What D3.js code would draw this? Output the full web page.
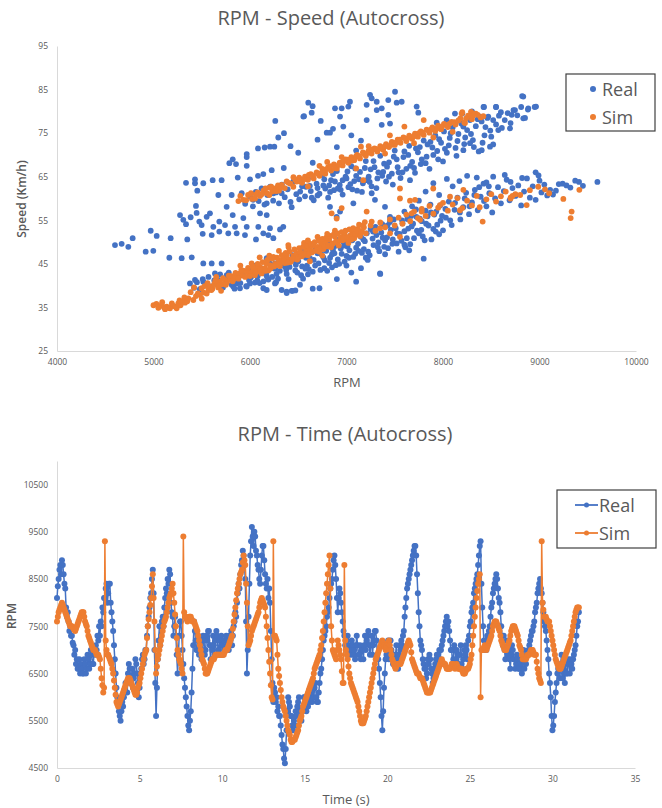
<!DOCTYPE html>
<html>
<head>
<meta charset="utf-8">
<script src="https://cdnjs.cloudflare.com/ajax/libs/d3/7.8.5/d3.min.js"></script>
<style>
body { margin: 0; background: #fff; }
svg text { font-family: 'Open Sans', sans-serif; fill: #595959; }
</style>
</head>
<body>
<script>
// Series colours (Excel default palette)
const realColor = '#4472C4',
    simColor = '#ED7D31';

// Top chart: RPM vs speed, [rpm, km/h]
const realScatter = [
    // scattered cloud
    [4601,49.3],[4670,49.6],[4739,48.9],[4784,50.9],[4919,47.8],[4998,48.0],[4971,52.6],[5033,51.4],[5178,50.9],[5164,46.4],
    [5292,46.3],[5396,46.5],[5350,50.6],[5275,56.2],[5309,55.1],[5337,54.1],[5385,55.7],[5337,63.6],[5430,64.4],[5430,63.5],
    [5454,61.8],[5516,63.5],[5440,58.3],[5447,56.7],[5475,54.7],[5499,53.9],[5510,51.9],[5551,55.8],[5585,56.6],[5620,53.5],
    [5672,60.8],[5613,64.2],[5706,64.2],[5682,54.7],[5741,53.9],[5682,52.4],[5603,51.6],[5775,52.0],[5758,58.1],[5821,56.2],
    [5786,68.1],[5821,69.0],[5855,67.9],[5966,70.2],[5966,69.5],[5966,67.5],[5873,64.8],[6000,64.4],[6083,65.2],[6138,65.6],
    [6225,66.5],[6083,71.5],[6152,71.7],[6207,71.9],[6252,71.9],[6293,74.0],[6352,75.0],[6262,77.8],[5810,60.8],[5845,53.5],
    [5862,52.0],[5931,55.5],[5966,53.5],[5948,51.6],[5914,61.2],[6034,59.7],[6104,56.6],[6173,56.2],[6086,53.5],[6138,52.0],
    [6190,51.6],[6242,50.9],[6062,50.6],[6207,53.2],[6311,52.9],[6345,53.5],[6432,58.0],[6173,58.9],[6242,61.2],[6328,61.2],
    [5378,40.5],[5430,41.3],[5516,40.9],[5637,42.8],[5672,41.3],[5758,42.4],[5827,39.8],[5896,39.4],[5966,39.8],[5862,40.5],
    [6000,40.5],[6138,39.4],[6173,39.0],[6259,40.5],[6328,39.0],[6380,38.6],[6432,38.8],[5516,45.1],[5603,45.1],[5706,45.1],
    [6173,46.3],[6259,45.1],[6518,40.2],
    [7244,83.8],[7261,83.0],[7313,82.2],[7503,84.5],[7433,82.6],[7520,82.0],[7572,82.2],[7209,81.5],[7036,82.2],[7019,81.1],
    [6950,80.7],[6881,80.7],[6933,78.8],[6967,76.5],[6795,75.1],[6829,75.1],[6733,77.8],[6604,82.0],[6649,81.2],[6639,79.7],
    [6553,78.8],[7209,78.0],[7365,80.7],[7313,80.3],[7433,79.2],[7451,77.2],[7365,76.9],[7727,81.1],[7744,79.7],[7935,77.4],
    [8038,78.0],[8124,79.5],[6560,78.9],[6420,72.0],[6500,70.5],[6700,73.5],[6860,76.0],[7050,74.5],[7100,71.0],[7150,73.3],
    [6650,68.2],[6350,67.0],[6900,71.8],
    [8832,83.4],[8884,80.7],[8964,81.1],[8746,80.3],[8712,79.2],[8832,78.4],[8694,76.1],[8425,81.0],[8549,81.0],[8469,78.8],
    [8383,78.8],[8573,75.7],[8487,71.9],[8401,71.1],[8280,72.7],[8211,71.1],
    [6829,58.1],[6933,57.0],[6898,55.8],[7071,58.9],[7295,59.7],[7399,58.1],[7261,61.2],[7658,64.2],[7451,55.8],[7347,42.8],
    // lower band
    [5420,39.5],[5450,40.8],[5480,39.2],[5510,41.5],[5540,40.1],[5570,42.0],[5600,39.8],[5630,41.2],[5660,40.4],[5690,42.6],
    [5720,39.6],[5750,41.8],[5780,43.0],[5810,40.2],[5840,39.3],[5870,41.6],[5900,40.6],[5930,42.9],[5960,39.9],[5990,41.3],
    [6020,43.6],[6050,40.7],[6080,42.2],[6110,44.0],[6140,41.0],[6170,43.1],[6200,45.2],[6230,42.0],[6260,43.9],[6290,41.6],
    [6320,44.8],[6350,46.2],[6380,42.7],[6410,44.3],[6440,47.0],[6470,43.5],[6500,45.6],[6530,42.4],[6560,47.8],[6590,44.6],
    [6620,46.3],[6650,43.2],[6680,48.5],[6710,45.1],[6740,47.2],[6770,44.0],[6800,49.6],[6830,46.4],[6860,48.2],[6890,44.7],
    [6920,50.6],[6950,47.3],[6980,45.5],[7010,49.0],[7040,51.5],[7070,46.6],[7100,48.7],[7130,52.4],[7160,47.5],[7190,50.2],
    [7220,45.9],[7250,53.0],[7280,49.3],[7310,51.6],[7340,47.9],[7370,54.1],[7400,50.4],[7430,48.6],[7460,52.8],[7490,55.2],
    [7520,49.7],[7550,51.9],[7580,54.3],[7610,48.8],[7640,53.1],[7670,56.0],[7700,50.9],[7730,52.6],[7760,55.4],[7790,51.3],
    [7820,57.2],[7850,53.8],[7880,50.6],[7910,56.3],[7940,54.0],[7970,58.4],[8000,52.7],[8030,55.6],[8060,59.3],[8090,53.9],
    [8120,57.4],[8150,60.2],[8180,55.2],[8210,58.0],[8240,61.3],[8270,56.4],[8300,59.1],[8330,62.0],[8360,57.3],[8390,60.4],
    [8420,63.4],[8450,58.2],[8480,61.2],[8510,56.8],[8540,60.0],[8570,62.6],[8600,58.9],[8630,61.7],[8660,64.3],[8690,59.6],
    [8720,62.4],[8750,60.6],[8780,63.0],[8810,58.4],[8840,61.6],[8870,64.6],[8900,60.2],[8930,62.8],[8960,59.7],[8990,65.3],
    [9020,61.4],[9050,63.2],[9080,60.7],[9110,62.0],[9140,60.9],[9170,61.8],[9200,63.3],[9240,63.4],[9280,63.0],[9320,62.5],
    [9370,64.1],[9410,63.8],[9450,62.9],[9600,63.8],
    [6010,41.9],[6060,44.6],[6100,40.6],[6150,42.8],[6190,41.4],[6240,44.6],[6270,40.8],[6310,43.4],[6360,44.4],[6400,41.5],
    [6450,45.8],[6490,43.0],[6540,44.4],[6580,46.4],[6610,43.8],[6660,45.9],[6700,47.4],[6730,43.6],[6760,46.5],[6790,48.0],
    [6820,45.2],[6850,47.2],[6880,49.1],[6910,46.0],[6940,48.5],[6970,50.0],[7000,46.8],[7030,48.1],[7060,50.4],[7090,47.3],
    [7120,49.6],[7150,51.2],[7180,48.4],[7210,52.0],[7240,47.0],[7270,50.8],[7300,53.5],[7330,49.9],[7360,52.2],[7390,48.9],
    [7420,51.1],[7450,54.6],[7480,50.6],[7510,53.2],[7540,47.8],[7570,50.3],[7600,52.5],[7630,55.3],[7660,49.5],[7690,54.2],
    [7720,57.5],[7750,52.0],[7780,54.8],[7810,50.4],[7840,55.9],[7870,58.6],[7900,53.0],[7930,57.0],[7960,51.8],[7990,56.0],
    [6025,42.6],[6075,41.2],[6125,43.4],[6175,42.1],[6225,44.0],[6275,42.7],[6325,45.2],[6375,43.6],[6425,46.0],[6475,44.8],
    [6525,47.0],[6575,43.9],[6625,47.6],[6675,44.6],[6725,48.8],[6775,45.8],[6825,49.8],[6875,47.4],[6925,45.0],[6975,49.2],
    [7025,46.4],[7075,51.6],[7125,48.0],[7175,50.6],[7225,47.8],[7275,52.4],[7325,48.8],[7375,51.0],[7425,53.8],[7475,49.6],
    [7525,52.0],[7575,55.0],[7625,50.9],[7675,53.6],[7725,55.8],[7775,52.8],[7825,54.2],[7875,56.8],[7925,52.4],[7975,54.9],
    [8025,57.6],[8075,55.0],[8125,59.0],[8175,56.8],[8225,60.0],[8275,58.2],[8325,60.8],[8375,62.6],[8425,59.4],[8475,62.8],
    [6550,41.6],[6600,42.6],[6800,43.4],[6850,44.2],[7000,44.6],[7200,46.4],[7400,47.2],[7600,49.4],
    [6380,38.3],[6440,38.8],[6650,39.3],[6720,39.4],[6470,38.9],[7100,40.9],[7350,42.7],[6900,41.5],[7050,43.0],[7150,44.0],
    [7650,48.1],[7800,46.2],
    [7750,59.5],[7820,61.6],[7900,63.5],[7960,60.8],[8040,64.5],[8100,62.8],[8170,64.0],[8250,65.2],[8350,64.8],[8450,63.7],
    [8520,65.0],[8640,65.4],[8700,63.8],[8820,64.7],[8960,66.0],[9000,64.1],[7680,58.2],[7600,57.0],
    // upper band
    [5950,58.8],[6000,60.5],[6030,58.2],[6060,61.5],[6090,59.4],[6120,62.3],[6150,58.6],[6180,60.8],[6210,62.7],[6240,59.5],
    [6270,61.4],[6300,58.9],[6330,63.2],[6360,60.3],[6390,62.1],[6420,59.2],[6450,63.9],[6480,61.0],[6510,59.8],[6540,62.8],
    [6570,60.5],[6600,64.6],[6630,61.7],[6660,59.6],[6690,63.4],[6720,61.1],[6750,65.4],[6780,62.3],[6810,60.2],[6840,64.2],
    [6870,61.9],[6900,66.3],[6930,63.1],[6960,60.9],[6990,65.0],[7020,62.6],[7050,67.4],[7080,64.0],[7110,61.8],[7140,66.1],
    [7170,63.5],[7200,68.6],[7230,65.0],[7260,62.8],[7290,67.2],[7320,64.6],[7350,69.8],[7380,66.1],[7410,63.9],[7440,68.3],
    [7470,65.7],[7500,71.0],[7530,67.2],[7560,64.7],[7590,69.5],[7620,66.8],[7650,72.1],[7680,68.4],[7710,65.9],[7740,70.6],
    [7770,67.9],[7800,73.3],[7830,69.6],[7860,66.8],[7890,71.7],[7920,74.5],[7950,69.0],[7980,72.8],[8010,75.4],[8040,70.5],
    [8070,73.9],[8100,76.3],[8130,71.6],[8160,74.8],[8190,77.2],[8220,72.5],[8250,75.7],[8280,78.0],[8310,73.4],[8340,76.6],
    [8370,70.8],[8400,77.7],[8430,74.5],[8460,78.5],[8490,75.6],[8520,72.4],[8550,77.0],[8580,79.0],[8610,76.2],[8640,78.0],
    [8670,79.6],[8700,77.3],[8730,80.3],[8770,79.1],[8810,81.0],[8850,78.5],[8880,80.4],[8950,81.0],[8820,83.5],[8300,80.0],
    [8420,81.0],[8550,81.0],[8200,79.5],
    [6620,62.9],[6700,60.7],[6760,63.0],[6830,61.5],[6880,63.9],[6940,62.0],[7000,64.6],[7060,62.1],[7100,65.2],[7160,61.5],
    [7210,64.2],[7250,66.7],[7310,62.4],[7370,65.2],[7420,67.3],[7480,63.2],[7520,69.0],[7580,66.0],[7640,70.0],[7700,67.0],
    [7760,71.8],[7820,68.1],[7870,73.0],[7940,70.9],[8000,68.5],[8060,72.2],[8140,69.8],[8230,74.0],[8320,71.8],[8410,72.8],
    [8500,74.2],
    [6520,61.6],[6580,62.7],[6640,60.2],[6700,62.4],[6770,64.4],[6820,63.0],[6860,65.6],[6910,62.3],[6960,64.2],[7010,66.2],
    [7040,63.3],[7090,66.9],[7130,64.4],[7190,67.0],[7240,63.8],[7280,68.6],[7330,66.0],[7390,68.0],[7440,65.0],[7490,69.6],
    [7540,66.0],[7600,70.8],[7660,67.5],[7720,71.5],[7780,69.0],[7840,72.4],[7900,70.0],[7960,73.6],[8020,71.4],[8080,75.0],
    [8150,73.2],[8210,76.5],[8290,74.8],[8360,78.2],[8440,76.4],[8520,78.0],[8600,79.8]
];

const simScatter = [
    // lower band
    [5030,35.8],[5060,35.2],[5085,35.6],[5110,35.0],[5137,35.2],[5160,34.9],[5171,34.8],[5200,35.4],[5223,35.2],[5240,34.8],
    [5257,35.9],[5280,35.5],[5300,36.3],[5326,36.1],[5361,37.1],[5385,38.5],[5413,36.7],[5440,37.6],[5482,37.9],[5499,39.4],
    [5520,38.4],[5551,38.2],[5570,39.0],[5585,39.8],[5610,39.3],[5630,40.4],[5655,40.2],[5670,39.6],[5689,40.9],[5710,40.3],
    [5741,41.3],[5760,40.8],[5793,41.4],[5810,42.2],[5830,41.5],[5845,42.1],[5870,41.9],[5896,42.8],[5920,42.3],[5940,43.4],
    [5966,43.2],[5990,42.6],[6010,43.0],[6017,45.1],[6034,43.6],[6050,42.4],[6070,44.0],[6090,43.3],[6104,44.3],[6120,42.8],
    [6140,43.8],[6155,44.0],[6170,45.1],[6190,43.5],[6207,44.7],[6220,44.2],[6242,46.6],[6260,45.0],[6276,44.7],[6300,45.8],
    [6310,44.5],[6328,45.5],[6345,46.3],[6360,45.2],[6380,47.0],[6400,46.0],[6420,45.4],[6432,45.9],[6450,46.8],[6470,46.2],
    [6484,47.4],[6500,46.5],[6520,47.8],[6540,46.8],[6560,47.3],[6580,48.2],[6600,47.0],[6620,48.6],[6640,47.6],[6660,49.2],
    [6680,48.0],[6700,48.9],[6720,47.8],[6740,49.6],[6760,48.4],[6780,50.2],[6800,49.0],[6820,50.6],[6840,48.8],[6860,49.7],
    [6880,51.2],[6900,50.0],[6920,49.2],[6940,51.0],[6960,50.4],[6980,51.8],[7000,50.6],[7020,49.8],[7040,51.5],[7060,52.2],
    [7080,50.9],[7100,51.7],[7120,53.0],[7140,51.4],[7160,52.5],[7180,53.4],[7200,52.0],[6397,49.3],[6560,49.8],[6700,51.2],
    [6880,52.6],[6620,45.6],[6750,46.9],[5900,44.6],[5700,38.8],[5500,37.0],[5650,42.0],[6100,46.5],[6300,48.0],
    [5420,39.6],[5460,38.2],[5530,39.9],[5560,40.6],[5600,39.0],[5640,41.1],[5680,40.0],[5720,41.7],[5750,40.2],[5780,42.3],
    [5820,41.0],[5850,42.9],[5880,41.6],[5910,43.6],[5950,42.0],[5980,44.1],[6000,42.2],[6030,44.4],[6060,43.0],[6080,45.0],
    [6110,43.6],[6130,45.4],[6160,43.4],[6180,45.9],[6210,43.9],[6230,46.2],[6250,44.4],[6280,46.4],[6300,44.8],[6330,47.0],
    [6350,45.6],[6370,47.5],[6390,45.3],[6410,47.8],[6440,46.2],[6460,48.3],[6490,46.0],[6510,48.6],[6530,46.7],[6550,48.9],
    [6570,47.1],[6590,49.2],[6610,47.4],[6630,49.6],[6650,47.9],[6670,50.0],[6690,48.1],[6710,50.3],[6730,48.5],[6750,50.7],
    [6770,48.9],[6790,51.0],[6810,49.3],[6830,51.4],[6850,49.5],[6870,51.8],[6890,50.1],[6910,52.0],[6930,50.4],[6950,52.3],
    [6970,50.8],[6990,52.6],[7010,51.1],[7030,52.9],[7050,50.6],[7070,53.2],[7090,51.9],[7110,52.6],[7130,54.0],[7150,52.2],
    [7170,53.8],[7190,54.6],[5350,36.4],[5320,37.3],[5270,36.6],[5190,35.9],[5120,34.6],[5090,36.2],[5050,34.9],[5000,35.5],
    [6200,46.9],[6400,48.8],[6600,50.4],[6800,51.9],
    [7250,53.8],[7300,52.6],[7350,54.5],[7400,53.4],[7450,55.2],[7500,53.8],[7540,55.6],[7580,54.2],[7620,56.3],[7660,54.8],
    [7700,57.0],[7740,55.5],[7780,57.6],[7820,56.0],[7860,58.3],[7900,56.5],[7950,57.9],[8000,59.0],[8050,57.2],[8100,58.6],
    [8150,60.1],[8200,57.8],[8250,59.5],[8300,58.4],[8350,60.6],[8411,54.7],[8450,59.8],[8500,61.0],[8550,59.3],[8600,60.5],
    [8650,61.6],[8700,60.2],[8750,61.0],[8800,60.8],[8867,58.5],[8900,61.9],[8987,62.7],[9057,62.1],[9100,61.2],[9247,59.9],
    [9333,57.0],[9323,55.5],[9413,62.0],[8380,58.0],[8700,60.0],[8720,60.6],
    // between the bands
    [7554,62.3],[7554,60.0],[7658,59.5],[7899,62.3],[7710,59.7],[7209,57.0],[7174,64.2],[6950,57.8],[6846,56.6],[6898,55.4],
    [7261,54.7],[7347,53.2],[7451,52.0],[7554,51.2],[7675,56.6],[7779,57.0],[7762,55.1],[8211,62.0],[8073,60.4],[7969,58.5],
    [8176,57.3],
    // upper band
    [5880,59.4],[5931,59.7],[5980,60.8],[6020,59.9],[6052,60.0],[6080,61.4],[6104,60.6],[6140,61.8],[6173,61.2],[6200,62.5],
    [6230,61.6],[6259,62.3],[6290,63.0],[6328,63.1],[6360,62.4],[6400,63.6],[6449,62.7],[6484,63.9],[6510,64.8],[6540,63.6],
    [6570,65.0],[6600,64.3],[6630,65.6],[6660,64.6],[6690,66.0],[6720,65.2],[6750,66.8],[6780,65.7],[6810,67.2],[6840,66.4],
    [6870,67.8],[6900,66.9],[6930,68.2],[6960,67.6],[6990,69.0],[7020,68.2],[7050,69.5],[7080,68.8],[7110,70.0],[7140,69.2],
    [7170,70.6],[7200,69.8],[7230,71.0],[7260,70.3],[7290,71.5],[7320,70.8],[7350,72.0],[7380,71.2],[7410,72.5],[7440,71.8],
    [7470,73.0],[7500,72.3],[7530,73.5],[7560,72.8],[7590,74.0],[7620,73.2],[7650,74.4],[7680,73.7],[7710,74.9],[7740,74.2],
    [7770,75.4],[7800,74.6],[7830,75.8],[7860,75.1],[7890,76.3],[7920,75.5],[7950,76.7],[7980,75.9],[8010,77.1],[8050,76.4],
    [8090,77.6],[8130,77.0],[8180,78.4],[8220,77.5],[8260,79.0],[8300,78.2],[8340,79.5],[8390,78.6],[8200,79.8],[8290,79.9],
    [7800,78.0],[7600,76.5],[7450,74.5],[7230,72.0],[7150,71.9],[6950,69.5],[6720,67.5],[6450,64.9],[6800,68.4],[6300,61.8],
    [7100,66.9],[7400,70.3],[7700,72.7],[7900,74.0],[6600,62.8],[6200,60.8],[8100,75.3],[8307,79.5],[8418,78.9],[8193,79.5],
    [8228,77.3],
    [5900,60.6],[5960,59.6],[6010,61.2],[6060,60.9],[6120,61.0],[6160,62.3],[6220,62.7],[6270,61.7],[6320,62.6],[6380,63.9],
    [6420,63.4],[6470,64.3],[6520,63.9],[6560,64.4],[6610,65.4],[6650,65.2],[6700,65.7],[6740,65.9],[6790,66.7],[6830,67.4],
    [6880,67.0],[6920,67.7],[6970,68.5],[7010,68.9],[7060,68.7],[7100,69.7],[7130,69.7],[7180,70.2],[7220,70.5],[7270,71.2],
    [7310,71.3],[7360,71.5],[7400,72.0],[7460,72.3],[7510,72.8],[7550,73.5],[7610,73.8],[7660,74.0],[7700,74.3],[7750,75.0],
    [7790,75.1],[7850,75.6],[7880,75.9],[7940,76.1],[7990,76.5],[8030,76.9],[8070,77.2],[8120,77.5],[8160,77.9],[8240,78.4],
    [8310,79.0],[8360,79.2]
];

const rpmTicks = [4000, 5000, 6000, 7000, 8000, 9000, 10000],
    speedTicks = [25, 35, 45, 55, 65, 75, 85, 95];

// Bottom chart: RPM over time, one sample every 0.05 s from t = 0 (one row per second)
const timeStep = 0.05;
const realRpm = [
    8100, 8350, 8500, 8700, 8800, 8600, 8900, 8800, 8600, 8400, 8300, 7900, 7700, 7800, 7600, 7400, 7500, 7300, 7300, 7150,
    7100, 6900, 7000, 6700, 6800, 6600, 6600, 6800, 6500, 6700, 6600, 6500, 6500, 6800, 6700, 6500, 6600, 6900, 6800, 6600,
    6700, 7000, 6900, 6700, 6700, 7000, 6900, 7100, 7000, 7300, 7200, 7500, 7300, 7600, 7500, 7900, 7800, 8100, 8100, 8300,
    8400, 8000, 8200, 8400, 8400, 8000, 7800, 7600, 7400, 7100, 6800, 6500, 6200, 6000, 5900, 5700, 5600, 5500, 5700, 5900,
    5800, 6000, 6100, 6300, 6300, 6100, 6500, 6700, 6600, 6300, 6400, 6600, 6200, 6400, 6500, 6800, 6700, 6500, 6300, 6000,
    6200, 6500, 6600, 6800, 6900, 6700, 6800, 7000, 7000, 7300, 7500, 7700, 7900, 8100, 8200, 8500, 8700, 8200, 7000, 6300,
    5600, 6200, 6800, 7200, 7500, 7100, 7300, 7600, 7700, 7500, 7900, 8100, 8300, 8200, 8500, 8400, 8700, 8600, 8000, 7800,
    7700, 7300, 7500, 7700, 7300, 6900, 6500, 6900, 7300, 7600, 7600, 7300, 7000, 6700, 6400, 6200, 6000, 5800, 5600, 5400,
    5300, 5500, 5700, 6100, 6600, 7100, 7600, 7400, 7200, 7000, 7000, 7300, 6900, 7200, 7100, 6800, 7000, 7300, 7200, 6900,
    7000, 7300, 7200, 7400, 7400, 7100, 6800, 7100, 7000, 7300, 7100, 6900, 7200, 7400, 7300, 7000, 7000, 7200, 6900, 7300,
    7100, 6900, 7200, 7000, 7000, 7300, 7100, 7200, 7000, 7300, 7200, 7400, 7100, 7300, 7500, 7600, 7800, 7700, 8000, 8200,
    8400, 8300, 8600, 8800, 8900, 9100, 9000, 8800, 8500, 7600, 6500, 7000, 7700, 8400, 9000, 9300, 9600, 9400, 9200, 9500,
    9400, 9100, 9000, 8800, 8700, 8500, 8400, 8700, 9000, 9200, 9200, 8900, 8600, 8400, 8300, 8500, 8100, 8300, 8000, 7400,
    6800, 6300, 5900, 6200, 6100, 5900, 6000, 5700, 5800, 5600, 5600, 5400, 5200, 5000, 4900, 4700, 4600, 4900, 5300, 5700,
    6000, 5900, 5800, 5600, 5600, 5400, 5300, 5500, 5400, 5700, 5600, 5800, 5900, 6000, 5700, 5600, 5500, 5700, 5800, 6000,
    6000, 5800, 5700, 5900, 5800, 6000, 5900, 6100, 6100, 5900, 6200, 6000, 6200, 6300, 6000, 5900, 5900, 6100, 6300, 6500,
    6600, 6800, 7000, 7200, 7300, 7400, 7500, 7700, 7800, 7900, 8100, 8300, 8400, 8500, 8700, 8900, 9000, 8800, 8500, 8100,
    7800, 8100, 8300, 8200, 8000, 7800, 7600, 7400, 7300, 7100, 7000, 7200, 7300, 7000, 7100, 6900, 7000, 7200, 6900, 7100,
    7000, 6800, 7100, 7300, 7100, 6900, 6900, 7100, 6800, 7000, 7000, 6800, 7100, 7300, 7000, 7200, 7300, 7400, 7100, 6900,
    7100, 7300, 6900, 7100, 7200, 7400, 7400, 7200, 6900, 6800, 6600, 6300, 6000, 5600, 5300, 5700, 6200, 6500, 6800, 6900,
    7000, 7200, 6800, 7000, 7200, 7000, 6900, 6700, 6700, 6900, 6900, 7100, 6800, 6600, 6900, 7100, 7000, 7200, 7100, 7300,
    7400, 7700, 7900, 8100, 8300, 8400, 8500, 8600, 8700, 8800, 8900, 9000, 9100, 9200, 9200, 9000, 8600, 8200, 7800, 7500,
    7200, 7100, 7000, 6800, 6700, 6600, 6600, 6400, 6500, 6800, 6700, 6900, 6800, 6600, 6500, 6300, 6400, 6600, 6700, 6800,
    6900, 6600, 6700, 7000, 6800, 7000, 7100, 7200, 7300, 7400, 7500, 7600, 7700, 7500, 7600, 7400, 7200, 7000, 7000, 6700,
    6800, 7100, 7000, 6800, 7000, 6700, 6700, 6900, 6900, 7100, 6700, 6600, 6800, 7000, 6900, 7100, 7000, 6800, 7200, 7300,
    7500, 7600, 7800, 7900, 8000, 8200, 8300, 8400, 8500, 8600, 8800, 9000, 9200, 9300, 8400, 7900, 7500, 7200, 7000, 7100,
    7000, 7300, 7200, 7400, 7500, 7700, 7900, 8000, 8200, 8300, 8400, 8500, 8600, 8500, 8300, 8100, 8000, 7800, 7500, 7300,
    7100, 7300, 7000, 6800, 7000, 7200, 6900, 7000, 6800, 6600, 6900, 7100, 7000, 6800, 6800, 6600, 6700, 6900, 6800, 6600,
    6600, 6800, 6700, 6500, 6800, 7000, 6600, 6800, 6700, 6900, 6900, 7000, 7100, 7200, 7300, 7400, 7400, 7500, 7600, 7800,
    7900, 8000, 8200, 8300, 8400, 8500, 8300, 8200, 8000, 7800, 7600, 7500, 7400, 7200, 7000, 6800, 6500, 6300, 6000, 5600,
    5300, 5400, 5600, 5900, 6100, 6300, 6500, 6600, 6600, 6400, 6700, 6900, 6400, 6600, 6500, 6300, 6700, 6500, 6500, 6800,
    6700, 6500, 6800, 6700, 6600, 6800, 6900, 7000, 7100, 7300, 7500, 7600, 7800
];
const simRpm = [
    7600, 7700, 7800, 7850, 7900, 7950, 8000, 7950, 7900, 7850, 7800, 7750, 7700, 7650, 7600, 7550, 7500, 7500, 7500, 7480,
    7450, 7420, 7400, 7450, 7500, 7550, 7600, 7650, 7700, 7750, 7800, 7800, 7800, 7700, 7600, 7550, 7500, 7400, 7300, 7250,
    7200, 7150, 7100, 7050, 7000, 7000, 7000, 6950, 6900, 6900, 6900, 6850, 6800, 6600, 6400, 6250, 6100, 6200, 9300, 7200,
    7000, 6900, 6900, 6850, 6800, 6750, 6700, 6600, 6500, 6350, 6200, 6050, 5900, 5850, 5800, 5850, 5900, 5950, 6000, 6050,
    6100, 6150, 6200, 6250, 6300, 6350, 6400, 6400, 6400, 6350, 6300, 6250, 6200, 6150, 6100, 6050, 6050, 6100, 6200, 6250,
    6300, 6400, 6500, 6600, 6700, 6800, 6900, 6950, 7000, 7250, 7500, 7650, 7800, 7950, 8100, 8350, 8600, 8100, 7600, 7000,
    6500, 6650, 6800, 6900, 7000, 7100, 7200, 7300, 7400, 7500, 7600, 7650, 7700, 7800, 7900, 8000, 8100, 8150, 8200, 8300,
    8400, 8200, 8000, 7750, 7500, 7250, 7000, 6900, 6800, 6750, 6700, 6600, 6500, 9400, 7800, 7700, 7700, 7650, 7600, 7650,
    7700, 7700, 7700, 7650, 7600, 7600, 7600, 7550, 7500, 7450, 7400, 7300, 7200, 7100, 7000, 6900, 6800, 6750, 6700, 6600,
    6500, 6500, 6500, 6550, 6600, 6650, 6700, 6750, 6800, 6800, 6800, 6850, 6900, 6900, 6900, 6900, 6900, 6900, 6900, 6900,
    6900, 6900, 6900, 6950, 7000, 7000, 7000, 7050, 7100, 7150, 7200, 7250, 7300, 7450, 7600, 7750, 7900, 8050, 8200, 8300,
    8400, 8500, 8600, 8650, 8700, 8850, 9000, 8900, 8800, 8400, 8000, 7500, 7100, 7150, 7200, 7300, 7400, 7450, 7500, 7550,
    7600, 7650, 7700, 7750, 7800, 7900, 8000, 8050, 8100, 8050, 8000, 7950, 7900, 7700, 7500, 7250, 7000, 6750, 6500, 6250,
    6000, 5950, 9300, 7300, 7300, 7250, 7200, 6900, 6600, 6450, 6300, 6150, 6000, 5900, 5800, 5750, 5700, 5600, 5500, 5400,
    5300, 5250, 5200, 5100, 5050, 5050, 5100, 5100, 5100, 5150, 5200, 5250, 5300, 5400, 5500, 5550, 5600, 5700, 5800, 5850,
    5900, 5950, 6000, 6050, 6100, 6150, 6200, 6250, 6300, 6350, 6400, 6500, 6600, 6650, 6700, 6750, 6800, 6850, 6900, 7000,
    7100, 7250, 7400, 7600, 7800, 8000, 8200, 8400, 8600, 8800, 9000, 8300, 7500, 7200, 7000, 6950, 6900, 6850, 6800, 7000,
    7200, 7100, 7000, 6900, 6800, 6550, 6300, 6300, 8800, 7200, 7000, 6900, 6800, 6650, 6500, 6400, 6300, 6250, 6200, 6150,
    6100, 6050, 6000, 5950, 5900, 5800, 5700, 5600, 5500, 5450, 5450, 5450, 5500, 5550, 5600, 5700, 5800, 5900, 6000, 6100,
    6200, 6300, 6400, 6500, 6600, 6700, 6800, 6850, 6900, 6950, 7000, 7050, 7100, 7150, 7200, 7150, 7100, 7050, 7000, 7050,
    7100, 7150, 7200, 7100, 7000, 6900, 6800, 6750, 6700, 6650, 6600, 6650, 6700, 6700, 6700, 6700, 6700, 6750, 6800, 6850,
    6900, 6950, 7000, 7050, 7100, 7150, 7200, 7150, 7100, 6950, 6800, 6750, 6700, 6650, 6600, 6550, 6500, 6500, 6500, 6450,
    6400, 6400, 6400, 6350, 6300, 6250, 6200, 6150, 6100, 6100, 6100, 6100, 6100, 6150, 6200, 6250, 6300, 6350, 6400, 6450,
    6500, 6550, 6600, 6650, 6700, 6750, 6800, 6750, 6700, 6700, 6700, 6650, 6600, 6600, 6600, 6600, 6600, 6650, 6700, 6700,
    6700, 6650, 6600, 6650, 6700, 6650, 6600, 6600, 6600, 6600, 6600, 6550, 6500, 6500, 6500, 6550, 6600, 6600, 6600, 6650,
    6700, 6800, 6900, 7100, 7300, 7500, 7700, 7900, 8100, 8250, 8400, 8500, 8600, 6000, 7000, 7000, 7000, 7050, 7100, 7050,
    7000, 7050, 7100, 7150, 7200, 7250, 7300, 7400, 7500, 7550, 7600, 7600, 7600, 7550, 7500, 7450, 7400, 7300, 7200, 7150,
    7100, 7050, 7000, 7000, 7000, 7050, 7100, 7150, 7200, 7300, 7400, 7450, 7500, 7500, 7500, 7450, 7400, 7350, 7300, 7200,
    7100, 7050, 7000, 6900, 6800, 6800, 6800, 6800, 6800, 6850, 6900, 6900, 6900, 6950, 7000, 7000, 7000, 6950, 6900, 6900,
    6900, 6750, 6600, 6500, 6400, 6350, 6300, 9300, 8000, 7850, 7700, 7700, 7700, 7650, 7600, 7600, 7600, 7500, 7400, 7300,
    7200, 7100, 7000, 6900, 6800, 6750, 6700, 6650, 6600, 6600, 6600, 6650, 6700, 6750, 6800, 6850, 6900, 6950, 7000, 7050,
    7100, 7150, 7200, 7300, 7400, 7500, 7600, 7700, 7800, 7850, 7900, 7900, 7900
];

const timeTicks = [0, 5, 10, 15, 20, 25, 30, 35],
    rpmTimeTicks = [4500, 5500, 6500, 7500, 8500, 9500, 10500];

const width = 662,
    height = 808;

let svg = d3.select('body').append('svg')
    .attr('width', width)
    .attr('height', height)
    .style('display', 'block');

svg.append('rect').attr('width', width).attr('height', height).attr('fill', '#fff');

// ---------- Chart 1: scatter ----------
const x1 = d3.scaleLinear().domain([4000, 10000]).range([57, 636]),
    y1 = d3.scaleLinear().domain([25, 95]).range([351, 46]);

svg.append('text')
    .attr('x', 331).attr('y', 25)
    .attr('text-anchor', 'middle')
    .attr('font-size', 20)
    .text('RPM - Speed (Autocross)');

styleAxis(svg.append('g')
    .attr('transform', 'translate(0,351)')
    .call(d3.axisBottom(x1).tickValues(rpmTicks).tickFormat(d3.format('d')).tickSize(0).tickPadding(8)));

styleAxis(svg.append('g')
    .attr('transform', 'translate(57,0)')
    .call(d3.axisLeft(y1).tickValues(speedTicks).tickFormat(d3.format('d')).tickSize(0).tickPadding(9)));

svg.append('text')
    .attr('x', 347).attr('y', 387)
    .attr('text-anchor', 'middle')
    .attr('font-size', 13)
    .text('RPM');

svg.append('text')
    .attr('transform', 'translate(26,199) rotate(-90)')
    .attr('text-anchor', 'middle')
    .attr('font-size', 12)
    .attr('font-weight', 600)
    .text('Speed (Km/h)');

let dots = svg.append('g');
dots.selectAll('.real').data(realScatter).enter().append('circle')
    .attr('class', 'real')
    .attr('cx', d => x1(d[0]))
    .attr('cy', d => y1(d[1]))
    .attr('r', 2.9)
    .attr('fill', realColor);
dots.selectAll('.sim').data(simScatter).enter().append('circle')
    .attr('class', 'sim')
    .attr('cx', d => x1(d[0]))
    .attr('cy', d => y1(d[1]))
    .attr('r', 2.9)
    .attr('fill', simColor);

// legend
let leg1 = svg.append('g');
leg1.append('rect')
    .attr('x', 566).attr('y', 74).attr('width', 89).attr('height', 57)
    .attr('fill', '#fff').attr('stroke', '#404040').attr('stroke-width', 1.2);
[['Real', realColor, 89], ['Sim', simColor, 117]].forEach(function (s) {
    leg1.append('circle').attr('cx', 593).attr('cy', s[2]).attr('r', 3).attr('fill', s[1]);
    leg1.append('text').attr('x', 602).attr('y', s[2] + 6.5).attr('font-size', 18).text(s[0]);
});

// ---------- Chart 2: line ----------
const x2 = d3.scaleLinear().domain([0, 35]).range([57, 635]),
    y2 = d3.scaleLinear().domain([4500, 11000]).range([768, 461]);

svg.append('text')
    .attr('x', 345).attr('y', 441)
    .attr('text-anchor', 'middle')
    .attr('font-size', 20)
    .text('RPM - Time (Autocross)');

styleAxis(svg.append('g')
    .attr('transform', 'translate(0,768)')
    .call(d3.axisBottom(x2).tickValues(timeTicks).tickFormat(d3.format('d')).tickSize(0).tickPadding(8)));

styleAxis(svg.append('g')
    .attr('transform', 'translate(57,0)')
    .call(d3.axisLeft(y2).tickValues(rpmTimeTicks).tickFormat(d3.format('d')).tickSize(0).tickPadding(9)));

svg.append('text')
    .attr('x', 346).attr('y', 804)
    .attr('text-anchor', 'middle')
    .attr('font-size', 13)
    .text('Time (s)');

svg.append('text')
    .attr('transform', 'translate(16,616) rotate(-90)')
    .attr('text-anchor', 'middle')
    .attr('font-size', 12)
    .attr('font-weight', 600)
    .text('RPM');

const line = d3.line()
    .x((d, i) => x2(i * timeStep))
    .y(d => y2(d));

[[realRpm, realColor], [simRpm, simColor]].forEach(function (s) {
    let g = svg.append('g');
    g.append('path')
        .attr('d', line(s[0]))
        .attr('fill', 'none')
        .attr('stroke', s[1])
        .attr('stroke-width', 1.5);
    g.selectAll('circle').data(s[0]).enter().append('circle')
        .attr('cx', (d, i) => x2(i * timeStep))
        .attr('cy', d => y2(d))
        .attr('r', 3)
        .attr('fill', s[1]);
});

// legend
let leg2 = svg.append('g');
leg2.append('rect')
    .attr('x', 557).attr('y', 490).attr('width', 99).attr('height', 58)
    .attr('fill', '#fff').attr('stroke', '#404040').attr('stroke-width', 1.2);
[['Real', realColor, 505], ['Sim', simColor, 533]].forEach(function (s) {
    leg2.append('line').attr('x1', 575).attr('x2', 598).attr('y1', s[2]).attr('y2', s[2])
        .attr('stroke', s[1]).attr('stroke-width', 1.8);
    leg2.append('circle').attr('cx', 586.5).attr('cy', s[2]).attr('r', 2.5).attr('fill', s[1]);
    leg2.append('text').attr('x', 599).attr('y', s[2] + 6.5).attr('font-size', 18).text(s[0]);
});

function styleAxis(g) {
    g.select('.domain').attr('stroke', '#d9d9d9').attr('stroke-width', 1);
    g.selectAll('text')
        .attr('fill', '#595959')
        .attr('font-family', "'Liberation Sans', sans-serif")
        .attr('font-size', 8.5);
    return g;
}
</script>
</body>
</html>
